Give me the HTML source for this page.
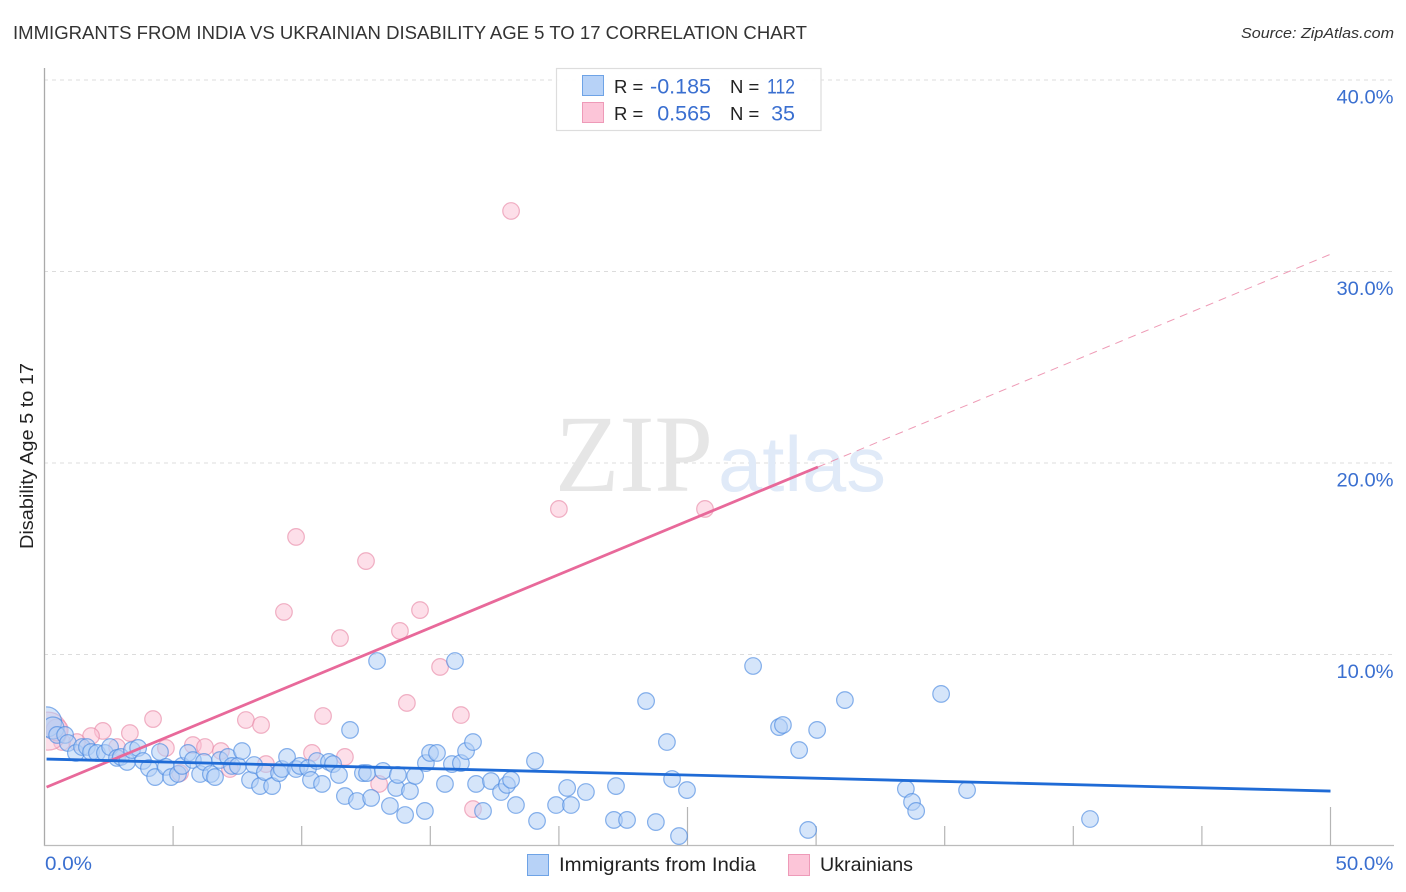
<!DOCTYPE html>
<html lang="en">
<head>
<meta charset="utf-8">
<title>Immigrants from India vs Ukrainian Disability Age 5 to 17 Correlation Chart</title>
<style>
html,body{margin:0;padding:0;background:#fff;}
svg{display:block;font-family:"Liberation Sans",sans-serif;}
</style>
</head>
<body>
<svg id="chart" xmlns="http://www.w3.org/2000/svg" width="1406" height="892" viewBox="0 0 1406 892">
<defs><clipPath id="plot-clip"><rect x="46" y="60" width="1350" height="786"/></clipPath></defs>
<rect x="0" y="0" width="1406" height="892" fill="#fff"/>
<text x="13" y="39" font-size="18.5" fill="#333" textLength="794" lengthAdjust="spacingAndGlyphs">IMMIGRANTS FROM INDIA VS UKRAINIAN DISABILITY AGE 5 TO 17 CORRELATION CHART</text>
<text x="1241" y="38" font-size="15" font-style="italic" fill="#333" textLength="153" lengthAdjust="spacingAndGlyphs">Source: ZipAtlas.com</text>
<text transform="translate(33,456) rotate(-90)" text-anchor="middle" font-size="18" fill="#222" textLength="186" lengthAdjust="spacingAndGlyphs">Disability Age 5 to 17</text>
<g id="grid"></g>
<text x="555" y="491" font-family="'Liberation Serif',serif" font-size="110" fill="#e6e6e6" textLength="158" lengthAdjust="spacingAndGlyphs">ZIP</text>
<text x="718" y="491" font-size="78" fill="#e0eaf8" textLength="168" lengthAdjust="spacingAndGlyphs">atlas</text>
<g id="axes"></g>
<g clip-path="url(#plot-clip)">
<g id="pink-points"></g>
<g id="blue-points"></g>
</g>
<g id="trends"></g>
<g id="labels"></g>

<g>
<rect x="556.5" y="68.5" width="264.5" height="62" fill="#fff" fill-opacity="0.92" stroke="#ddd" stroke-width="1.2"/>
<rect x="582.5" y="75.5" width="21" height="20" fill="#b7d2f7" stroke="#6ea3e6" stroke-width="1"/>
<rect x="582.5" y="102.5" width="21" height="20" fill="#fcc5d8" stroke="#ee9ab8" stroke-width="1"/>
<g font-size="20">
<text x="614" y="93" fill="#222" font-size="18.5">R =</text>
<text x="711" y="93.5" fill="#3a6fd0" font-size="21.5" text-anchor="end">-0.185</text>
<text x="730" y="93" fill="#222" font-size="18.5">N =</text>
<text x="767" y="93.5" fill="#3a6fd0" font-size="21.5" textLength="28" lengthAdjust="spacingAndGlyphs">112</text>
<text x="614" y="120" fill="#222" font-size="18.5">R =</text>
<text x="711" y="120.5" fill="#3a6fd0" font-size="21.5" text-anchor="end">0.565</text>
<text x="730" y="120" fill="#222" font-size="18.5">N =</text>
<text x="795" y="120.5" fill="#3a6fd0" font-size="21.5" text-anchor="end">35</text>
</g>
</g>

<g>
<rect x="527.5" y="854.5" width="21" height="21" fill="#b7d2f7" stroke="#6ea3e6" stroke-width="1"/>
<text x="559" y="871" font-size="19.5" fill="#222" textLength="197" lengthAdjust="spacingAndGlyphs">Immigrants from India</text>
<rect x="788.5" y="854.5" width="21" height="21" fill="#fcc5d8" stroke="#ee9ab8" stroke-width="1"/>
<text x="820" y="871" font-size="19.5" fill="#222" textLength="93" lengthAdjust="spacingAndGlyphs">Ukrainians</text>
</g>
</svg>

<script>
const indiaX = [0.08,0.33,0.49,0.80,0.91,1.22,1.46,1.65,1.81,2.04,2.35,2.55,2.82,2.97,3.21,3.40,3.64,3.83,4.06,4.30,4.49,4.72,4.92,5.19,5.35,5.58,5.77,6.05,6.20,6.47,6.63,6.82,7.13,7.29,7.52,7.68,7.99,8.15,8.38,8.57,8.85,9.12,9.23,9.43,9.78,9.93,10.25,10.36,10.59,10.79,11.06,11.22,11.45,11.68,11.88,12.15,12.38,12.54,12.70,12.93,13.16,13.43,13.67,13.74,14.02,14.21,14.41,14.79,14.83,14.99,15.26,15.57,15.84,15.96,16.19,16.39,16.66,16.78,17.05,17.36,17.75,17.98,18.14,18.33,19.07,19.15,19.89,20.32,20.47,21.05,22.14,22.22,22.65,23.39,23.77,24.20,24.40,24.67,24.98,27.55,28.56,28.71,29.34,29.69,30.04,31.12,33.49,33.73,33.89,34.86,35.87,40.65];
const indiaY = [6.48,6.16,5.80,5.80,5.38,4.86,5.17,5.17,4.91,4.86,4.86,5.17,4.60,4.65,4.39,5.01,5.12,4.44,4.07,3.60,4.91,4.13,3.60,3.76,4.18,4.86,4.49,3.76,4.39,3.76,3.60,4.49,4.65,4.18,4.18,4.96,3.45,4.23,3.13,3.86,3.13,3.81,4.02,4.65,4.02,4.18,4.07,3.45,4.44,3.24,4.39,4.28,3.71,2.61,6.06,2.35,3.81,3.81,2.51,9.66,3.92,2.09,3.03,3.71,1.62,2.87,3.66,1.83,4.33,4.86,4.86,3.24,4.28,9.66,4.33,4.96,5.43,3.24,1.83,3.39,2.82,3.19,3.45,2.14,4.44,1.31,2.14,3.03,2.14,2.82,1.36,3.13,1.36,7.57,1.25,5.43,3.50,0.52,2.92,9.40,6.21,6.32,5.01,0.84,6.06,7.62,2.98,2.30,1.83,7.94,2.92,1.41];
const ukrainiansX = [18.14,20.00,25.68,9.78,12.50,9.31,14.60,13.82,11.49,15.38,14.09,16.19,10.83,7.83,8.42,4.22,3.32,2.27,1.81,1.26,0.68,0.14,0.49,2.82,4.72,5.77,6.24,6.86,10.40,11.68,8.61,7.21,5.27,13.01,16.66];
const ukrainiansY = [33.16,17.60,17.60,16.14,14.88,12.22,12.32,11.23,10.86,9.35,7.47,6.84,6.79,6.58,6.32,6.63,5.90,6.01,5.74,5.43,5.43,6.00,6.06,5.17,5.12,5.27,5.17,4.96,4.86,4.65,4.28,4.02,3.81,3.24,1.93];
const indiaLargeMarks = [0.08,0.33];
const indiaLargeRadii = [15,11];
const ukrainiansLargeMarks = [0.14,0.49];
const ukrainiansLargeRadii = [19,11];
const indiaTrend = [4.54,2.87];
const ukrainiansTrend = [3.03,30.9];
const ukrainiansSolidEnd = 30.07;
const yTicks = [10,20,30,40];
const yTickLabels = ["10.0%","20.0%","30.0%","40.0%"];
const xTicks = [5,10,15,20,25,30,35,40,45,50];
const xMajorTicks = [25,50];
const xEndLabels = ["0.0%","50.0%"];

const NS = "http://www.w3.org/2000/svg";
const xScale = v => 44.5 + v * 25.72;
const yScale = v => 846 - v * 19.15;
function make(tag, parent, attrs){
  const el = document.createElementNS(NS, tag);
  Object.keys(attrs).forEach(k => el.setAttribute(k, attrs[k]));
  document.getElementById(parent).appendChild(el);
  return el;
}

yTicks.forEach((v, i) => {
  const line = make("line", "grid", {x1:44, x2:1394, y1:yScale(v), y2:yScale(v), stroke:"#dcdcdc", "stroke-width":1, "stroke-dasharray":"4 4"});
  
  
  const label = make("text", "labels", {x:1393.5, y:yScale(v)+23.5, "text-anchor":"end", "font-size":19.5, fill:"#3a6fd0", textLength:57, lengthAdjust:"spacingAndGlyphs"});
  
  
  label.textContent = yTickLabels[i];
});

const topGridLine = make("line", "axes", {x1:44.5, x2:44.5, y1:68, y2:846, stroke:"#aaa", "stroke-width":1.3});


const bottomLine = make("line", "axes", {x1:44, x2:1394, y1:845.5, y2:845.5, stroke:"#bbb", "stroke-width":1.3});



xTicks.forEach(v => {
  const major = xMajorTicks.indexOf(v) >= 0;
  const tick = make("line", "axes", {x1:xScale(v), x2:xScale(v), y1:major ? 807 : 826, y2:846, stroke:"#b5b5b5", "stroke-width":1.2});
  
  
});

const xLabelLeft = make("text", "labels", {x:45, y:870, "font-size":19.5, fill:"#3a6fd0", textLength:47, lengthAdjust:"spacingAndGlyphs"});


xLabelLeft.textContent = xEndLabels[0];
const xLabelRight = make("text", "labels", {x:1393.5, y:870, "text-anchor":"end", "font-size":19.5, fill:"#3a6fd0", textLength:58, lengthAdjust:"spacingAndGlyphs"});


xLabelRight.textContent = xEndLabels[1];

ukrainiansX.forEach((v, i) => {
  const largeIndex = ukrainiansLargeMarks.indexOf(v);
  const c = make("circle", "pink-points", {cx:xScale(v), cy:yScale(ukrainiansY[i]), r:largeIndex >= 0 ? ukrainiansLargeRadii[largeIndex] : 8.3, fill:"#fcc0d4", "fill-opacity":0.5, stroke:"#e88aa8", "stroke-opacity":0.65, "stroke-width":1.2});
  
  
});

indiaX.forEach((v, i) => {
  const largeIndex = indiaLargeMarks.indexOf(v);
  const c = make("circle", "blue-points", {cx:xScale(v), cy:yScale(indiaY[i]), r:largeIndex >= 0 ? indiaLargeRadii[largeIndex] : 8.3, fill:"#b3cff5", "fill-opacity":0.55, stroke:"#4a88e0", "stroke-opacity":0.65, "stroke-width":1.2});
  
  
});

const pinkAt = x => ukrainiansTrend[0] + (ukrainiansTrend[1] - ukrainiansTrend[0]) * x / 50;
const pinkDashed = make("line", "trends", {x1:xScale(ukrainiansSolidEnd), y1:yScale(pinkAt(ukrainiansSolidEnd)), x2:xScale(50), y2:yScale(ukrainiansTrend[1]), stroke:"#e8789c", "stroke-width":1, "stroke-dasharray":"8 6", "stroke-opacity":0.75});


const pinkSolid = make("line", "trends", {x1:xScale(0.08), y1:yScale(pinkAt(0.08)), x2:xScale(ukrainiansSolidEnd), y2:yScale(pinkAt(ukrainiansSolidEnd)), stroke:"#e8699a", "stroke-width":2.8});


const blueSolid = make("line", "trends", {x1:xScale(0.08), y1:yScale(indiaTrend[0]), x2:xScale(50), y2:yScale(indiaTrend[1]), stroke:"#1f6bd6", "stroke-width":2.8});


</script>
</body>
</html>
